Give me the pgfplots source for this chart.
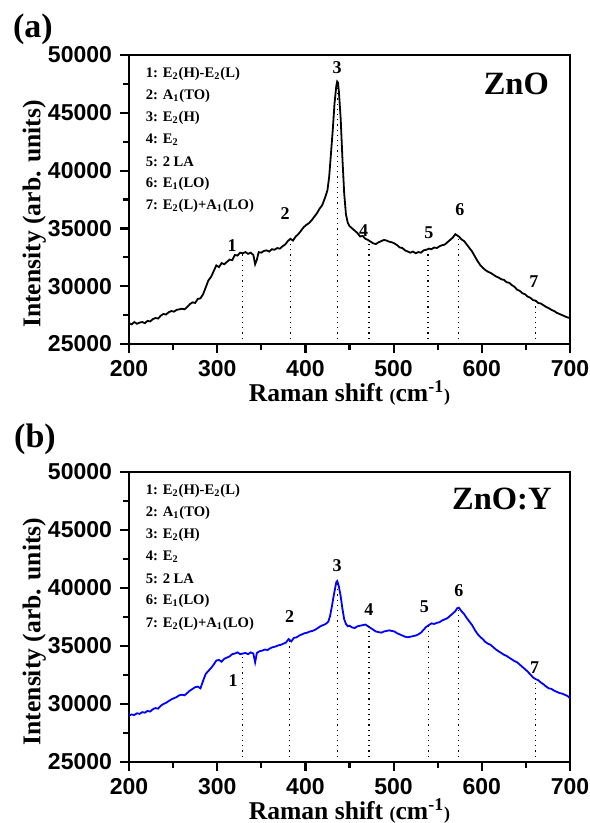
\documentclass[border=0pt]{standalone}
\usepackage{fontspec}
\setmainfont{Liberation Serif}
\setsansfont{Liberation Sans}
\usepackage{pgfplots}
\pgfplotsset{compat=1.18}

\pgfplotstableread{
x y
200 26800
203 26700
206 26900
209 26750
212 26850
215 26900
218 26800
221 27000
224 26950
227 27150
230 27250
233 27200
236 27450
239 27600
242 27550
245 27750
248 27850
251 27800
254 27950
257 28000
260 28050
263 28000
266 28200
269 28450
272 28600
275 28550
278 28900
281 28950
284 29300
287 29900
290 30500
293 30800
296 31300
299 31800
302 31650
305 32000
308 31900
311 32100
314 32300
317 32250
320 32700
323 32650
326 32900
329 32850
332 32950
335 32800
338 32900
341 32700
343 31900
345 32300
347 32950
350 32900
353 33050
356 33100
359 33000
362 33200
365 33150
368 33300
371 33250
374 33450
377 33600
380 33900
383 34100
386 33950
389 34300
392 34500
395 34800
398 35100
401 35300
404 35450
407 35700
410 36000
413 36300
416 36700
419 37000
422 37600
425 38300
427 39500
429 41500
431 43500
433 45800
435 47300
436 47700
437 47600
438 46800
440 44500
442 41000
444 38000
446 36200
448 35500
450 35200
453 35000
456 34800
459 34600
462 34300
465 34350
468 34100
471 34000
474 33850
477 33700
480 33650
483 33800
486 33900
489 34000
492 33950
495 33850
498 33800
501 33700
504 33550
507 33350
510 33300
513 33100
516 33000
519 32900
522 33000
525 32850
528 32950
531 32900
534 33100
537 33150
540 33250
543 33200
546 33350
549 33300
552 33450
555 33550
558 33600
561 33800
564 34000
567 34200
570 34500
572 34400
574 34300
577 34050
580 33900
583 33600
586 33300
589 33000
592 32600
595 32200
598 31850
601 31600
604 31400
607 31250
610 31150
613 31000
616 30850
619 30750
622 30600
625 30550
628 30350
631 30300
634 30100
637 29950
640 29700
643 29600
646 29400
649 29300
652 29100
655 29000
658 28800
661 28750
664 28550
667 28500
670 28350
673 28200
676 28100
679 27950
682 27850
685 27700
688 27600
691 27500
694 27400
697 27300
700 27250
}\zno

\pgfplotstableread{
x y
200 29000
203 29100
206 29050
209 29200
212 29150
215 29300
218 29250
221 29400
224 29350
227 29550
230 29650
233 29600
236 29850
239 30000
242 30100
245 30250
248 30400
251 30500
254 30600
257 30750
260 30800
263 30750
266 30950
269 31150
272 31300
275 31450
278 31500
281 31350
284 32000
287 32600
290 32850
293 33100
296 33400
299 33750
302 33800
305 33650
308 33900
311 34000
314 34100
317 34300
320 34350
323 34450
326 34300
329 34350
332 34400
335 34300
338 34450
341 34350
343 33600
345 34400
348 34550
351 34600
354 34700
357 34650
360 34800
363 34900
366 34950
369 35050
372 35100
375 35200
378 35300
381 35600
384 35400
387 35700
390 35750
393 35900
396 36000
399 36100
402 36150
405 36250
408 36300
411 36400
414 36550
417 36700
420 36800
423 36900
426 37100
428 37600
430 38400
432 39300
434 40100
435 40500
436 40600
437 40400
438 40100
440 39300
442 38200
444 37300
446 36900
448 36700
450 36750
453 36600
456 36550
459 36700
462 36750
465 36800
468 36850
471 36700
474 36550
477 36400
480 36250
483 36200
486 36150
489 36250
492 36300
495 36350
498 36300
501 36250
504 36100
507 36000
510 35900
513 35800
516 35750
519 35800
522 35850
525 35900
528 36000
531 36150
534 36400
537 36650
540 36800
543 36950
546 36900
549 37000
552 37050
555 37200
558 37300
561 37400
564 37600
567 37800
570 38000
572 38250
574 38300
577 38000
580 37750
583 37400
586 37100
589 36800
592 36400
595 36050
598 35800
601 35600
604 35350
607 35200
610 35100
613 34900
616 34700
619 34550
622 34400
625 34250
628 34150
631 34000
634 33850
637 33700
640 33600
643 33400
646 33200
649 33000
652 32800
655 32550
658 32300
661 32150
664 32050
667 31850
670 31700
673 31500
676 31350
679 31300
682 31150
685 31050
688 30950
691 30900
694 30800
697 30700
700 30500
}\znoy

\newcommand{\legfont}{\fontsize{7.3}{9}\selectfont\bfseries}
\newcommand{\pkfont}{\fontsize{9}{10}\selectfont\bfseries}

\pgfplotsset{
  ramanax/.style={
    scale only axis, width=220.5pt, height=144.5pt,
    xmin=200, xmax=700, ymin=25000, ymax=50000,
    xtick={200,300,...,700}, ytick={25000,30000,...,50000},
    minor x tick num=1, minor y tick num=1,
    tick align=outside, xtick pos=bottom, ytick pos=left,
    major tick length=4.5pt, minor tick length=3pt,
    axis line style={line width=1.3pt},
    every tick/.style={line width=1.1pt, black},
    ticklabel style={font=\fontsize{11.5}{13}\selectfont\sffamily\bfseries},
    yticklabel style={xshift=-0.5pt},
    /pgf/number format/assume math mode=true,
    /pgf/number format/1000 sep={},
    scaled y ticks=false,
    xlabel={Raman shift {\fontsize{9}{10}\selectfont(}cm\textsuperscript{-1}{\fontsize{9}{10}\selectfont)}},
    ylabel={Intensity (arb. units)},
    label style={font=\fontsize{12.8}{14}\selectfont\bfseries},
    xlabel style={at={(axis description cs:0.5,-0.17)}, anchor=center},
    ylabel style={at={(axis description cs:-0.215,0.45)}, anchor=center},
    clip=false,
  },
  dline/.style={black, dotted, line width=0.6pt, forget plot},
}

\begin{document}
\begin{tikzpicture}
\useasboundingbox (0pt,0pt) rectangle (294.5pt,-411.5pt);
\node[font=\fontsize{17}{19}\selectfont\bfseries] at (16.5pt,-14.5pt) {(a)};
\node[font=\fontsize{17}{19}\selectfont\bfseries] at (17.5pt,-219.5pt) {(b)};

\begin{axis}[ramanax, at={(64.5pt,-172pt)}, anchor=south west]
\addplot[black, line width=0.9pt] table[x=x,y=y] {\zno};
\addplot[dline] coordinates {(329,25000) (329,32900)};
\addplot[dline] coordinates {(383,25000) (383,34050)};
\addplot[dline] coordinates {(436,25000) (436,47500)};
\addplot[dline] coordinates {(472,25000) (472,33950)};
\addplot[dline] coordinates {(539,25000) (539,33200)};
\addplot[dline] coordinates {(574,25000) (574,34300)};
\addplot[dline] coordinates {(661,25000) (661,28700)};
\node[font=\pkfont] at (axis cs:317,33500) {1};
\node[font=\pkfont] at (axis cs:377,36300) {2};
\node[font=\pkfont] at (axis cs:436,48900) {3};
\node[font=\pkfont] at (axis cs:466,34800) {4};
\node[font=\pkfont] at (axis cs:540,34600) {5};
\node[font=\pkfont] at (axis cs:575,36600) {6};
\node[font=\pkfont] at (axis cs:659,30400) {7};
\node[anchor=east, font=\fontsize{16.25}{18}\selectfont\bfseries] at (axis cs:684,47500) {ZnO};
\node[anchor=west, font=\legfont] at (axis cs:211,48400) {1: E\textsubscript{2}(H)-E\textsubscript{2}(L)};
\node[anchor=west, font=\legfont] at (axis cs:211,46490) {2: A\textsubscript{1}(TO)};
\node[anchor=west, font=\legfont] at (axis cs:211,44580) {3: E\textsubscript{2}(H)};
\node[anchor=west, font=\legfont] at (axis cs:211,42670) {4: E\textsubscript{2}};
\node[anchor=west, font=\legfont] at (axis cs:211,40760) {5: 2 LA};
\node[anchor=west, font=\legfont] at (axis cs:211,38850) {6: E\textsubscript{1}(LO)};
\node[anchor=west, font=\legfont] at (axis cs:211,36940) {7: E\textsubscript{2}(L)+A\textsubscript{1}(LO)};
\end{axis}

\begin{axis}[ramanax, height=145pt, at={(64.5pt,-381pt)}, anchor=south west]
\addplot[color={rgb,255:red,0;green,0;blue,255}, line width=0.9pt] table[x=x,y=y] {\znoy};
\addplot[dline] coordinates {(329,25000) (329,34350)};
\addplot[dline] coordinates {(382,25000) (382,35600)};
\addplot[dline] coordinates {(436,25000) (436,40400)};
\addplot[dline] coordinates {(472,25000) (472,36700)};
\addplot[dline] coordinates {(540,25000) (540,36800)};
\addplot[dline] coordinates {(574,25000) (574,38250)};
\addplot[dline] coordinates {(661,25000) (661,32150)};
\node[font=\pkfont] at (axis cs:318,32050) {1};
\node[font=\pkfont] at (axis cs:382,37500) {2};
\node[font=\pkfont] at (axis cs:436,41900) {3};
\node[font=\pkfont] at (axis cs:472,38100) {4};
\node[font=\pkfont] at (axis cs:535,38400) {5};
\node[font=\pkfont] at (axis cs:574,39800) {6};
\node[font=\pkfont] at (axis cs:660,33100) {7};
\node[anchor=east, font=\fontsize{16.25}{18}\selectfont\bfseries] at (axis cs:687,47700) {ZnO:Y};
\node[anchor=west, font=\legfont] at (axis cs:211,48400) {1: E\textsubscript{2}(H)-E\textsubscript{2}(L)};
\node[anchor=west, font=\legfont] at (axis cs:211,46490) {2: A\textsubscript{1}(TO)};
\node[anchor=west, font=\legfont] at (axis cs:211,44580) {3: E\textsubscript{2}(H)};
\node[anchor=west, font=\legfont] at (axis cs:211,42670) {4: E\textsubscript{2}};
\node[anchor=west, font=\legfont] at (axis cs:211,40760) {5: 2 LA};
\node[anchor=west, font=\legfont] at (axis cs:211,38850) {6: E\textsubscript{1}(LO)};
\node[anchor=west, font=\legfont] at (axis cs:211,36940) {7: E\textsubscript{2}(L)+A\textsubscript{1}(LO)};
\end{axis}
\end{tikzpicture}
\end{document}
